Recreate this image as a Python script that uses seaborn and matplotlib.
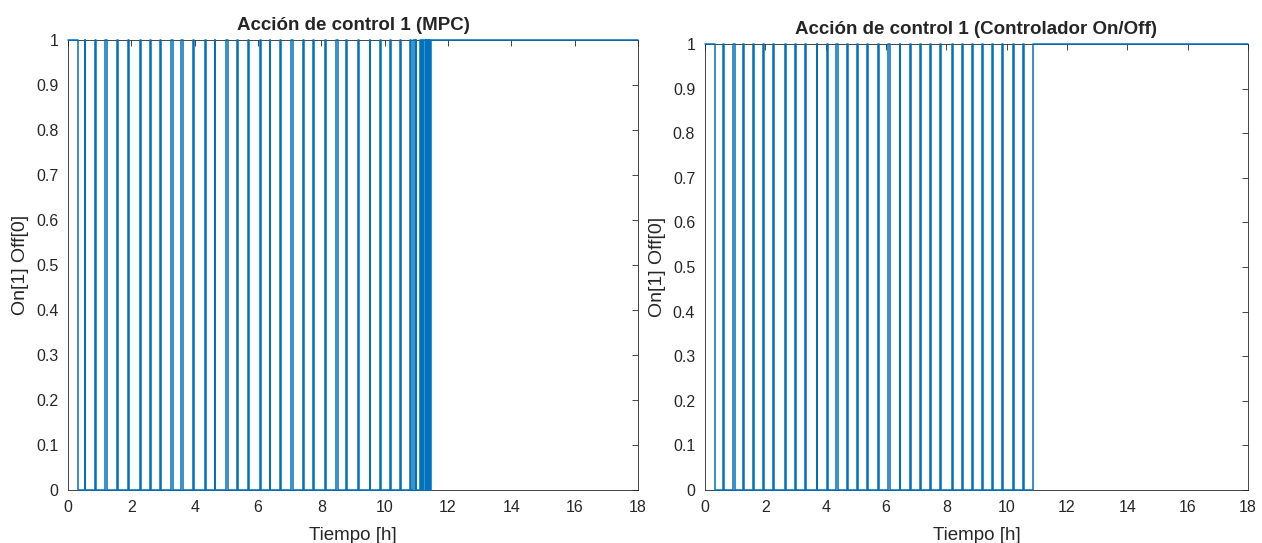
import numpy as np
import pandas as pd
import matplotlib
matplotlib.use("Agg")
import matplotlib.pyplot as plt
import seaborn as sns

# switching instants [h]
mpc_on = [0.00, 0.53, 0.84, 1.18, 1.55, 1.89, 2.26, 2.58, 2.89, 3.26, 3.58, 3.95,
          4.32, 4.63, 5.00, 5.32, 5.68, 6.05, 6.37, 6.68, 7.05, 7.42, 7.74, 8.10,
          8.47, 8.79, 9.16, 9.53, 9.84, 10.16, 10.49, 10.79, 10.90, 10.98, 11.10,
          11.17, 11.25, 11.31, 11.36, 11.41, 11.47]
mpc_off = [0.33, 0.55, 0.88, 1.22, 1.59, 1.93, 2.30, 2.62, 2.93, 3.30, 3.62, 3.99,
           4.36, 4.65, 5.04, 5.36, 5.72, 6.09, 6.39, 6.72, 7.09, 7.46, 7.78, 8.14,
           8.51, 8.81, 9.20, 9.55, 9.88, 10.20, 10.53, 10.84, 10.95, 10.99, 11.15,
           11.22, 11.29, 11.34, 11.39, 11.44]

onoff_on = [0.00, 0.61, 0.94, 1.27, 1.60, 1.93, 2.26, 2.65, 2.98, 3.31, 3.70, 4.03,
            4.36, 4.70, 5.03, 5.36, 5.72, 6.08, 6.46, 6.80, 7.13, 7.46, 7.79, 8.18,
            8.51, 8.84, 9.17, 9.50, 9.83, 10.22, 10.55, 10.88]
onoff_off = [0.33, 0.63, 0.98, 1.31, 1.62, 1.97, 2.30, 2.69, 3.02, 3.35, 3.72, 4.07,
             4.40, 4.74, 5.07, 5.40, 5.76, 6.12, 6.48, 6.84, 7.17, 7.50, 7.83, 8.22,
             8.55, 8.88, 9.21, 9.54, 9.87, 10.24, 10.59]

t_end = 18
titles = ["Acción de control 1 (MPC)", "Acción de control 1 (Controlador On/Off)"]
xticks = list(range(0, 19, 2))
yticks = [0, 0.1, 0.2, 0.3, 0.4, 0.5, 0.6, 0.7, 0.8, 0.9, 1]
ytick_labels = ["0", "0.1", "0.2", "0.3", "0.4", "0.5", "0.6", "0.7", "0.8", "0.9", "1"]


def step_frame(on_times, off_times):
    """Build a step signal table from switch-on / switch-off instants"""
    events = [(t, 1) for t in on_times] + [(t, 0) for t in off_times]
    events.sort()
    t = [e[0] for e in events]
    u = [e[1] for e in events]
    t.append(t_end)
    u.append(u[-1])
    return pd.DataFrame({"t": t, "u": u})


sns.set_style("white")
plt.rcParams["font.family"] = ["Liberation Sans", "DejaVu Sans"]

fig = plt.figure(figsize=(12.62, 5.43), dpi=100)
ax1 = fig.add_axes([0.0539, 0.0976, 0.4517, 0.8287])
ax2 = fig.add_axes([0.5586, 0.0976, 0.4303, 0.8214])

data = [step_frame(mpc_on, mpc_off), step_frame(onoff_on, onoff_off)]
blue = "#0072BD"

for ax, df, title in zip([ax1, ax2], data, titles):
    sns.lineplot(data=df, x="t", y="u", ax=ax, estimator=None, sort=False,
                 drawstyle="steps-post", color=blue, linewidth=1.1,
                 clip_on=False, zorder=3)
    ax.set_xlim(0, t_end)
    ax.set_ylim(0, 1)
    ax.set_xticks(xticks)
    ax.set_yticks(yticks)
    ax.set_yticklabels(ytick_labels)
    ax.tick_params(direction="in", length=4, width=0.6, top=True, right=True,
                   labelsize=11.5, colors="#262626", pad=7)
    for sp in ax.spines.values():
        sp.set_color("#262626")
        sp.set_linewidth(0.6)
    ax.set_title(title, fontsize=13.5, fontweight="bold", pad=7)
    ax.set_xlabel("Tiempo [h]", fontsize=13.5, color="#262626", labelpad=9)
    ax.set_ylabel("On[1] Off[0]", fontsize=14, color="#262626", labelpad=5)

fig.savefig("out.png", dpi=100)
